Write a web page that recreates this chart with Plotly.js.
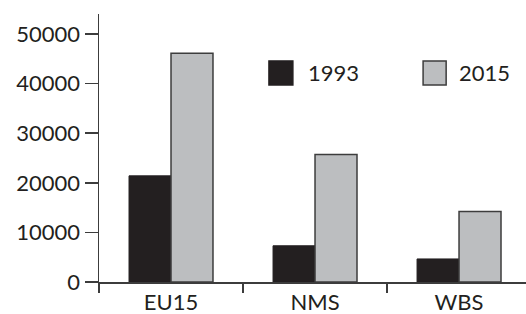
<!DOCTYPE html>
<html>
<head>
<meta charset="utf-8">
<script src="https://cdn.plot.ly/plotly-3.0.1.min.js"></script>
<style>html,body{margin:0;padding:0;background:#fff;}#chart{width:526px;height:314px;}</style>
</head>
<body>
<div id="chart"></div>
<script>
const categories = ["EU15", "NMS", "WBS"];
const seriesNames = ["1993", "2015"];
const values1993 = [21400, 7300, 4650];
const values2015 = [46100, 25700, 14200];
const yTickVals = [0, 10000, 20000, 30000, 40000, 50000];
const yTickText = ["0", "10000", "20000", "30000", "40000", "50000"];

const dark = "#231f20";
const gray = "#bcbec0";
const edge = "#3d3d3d";
const fontFam = "Lato, 'Open Sans', sans-serif";

const traces = [
  {type: "bar", name: seriesNames[0], x: categories, y: values1993,
   marker: {color: dark, line: {color: dark, width: 1}}, showlegend: false, hoverinfo: "skip"},
  {type: "bar", name: seriesNames[1], x: categories, y: values2015,
   marker: {color: gray, line: {color: edge, width: 1.5}}, showlegend: false, hoverinfo: "skip"}
];

const legendColors = [dark, gray];
const legendEdges = [dark, edge];
const boxX = [[0.398, 0.454], [0.759, 0.813]];
const textX = [0.485, 0.839];
const shapes = [];
const annotations = [];
for (let i = 0; i < seriesNames.length; i++) {
  shapes.push({type: "rect", xref: "paper", yref: "paper",
    x0: boxX[i][0], x1: boxX[i][1], y0: 0.735, y1: 0.825,
    fillcolor: legendColors[i], line: {color: legendEdges[i], width: 1.5}});
  annotations.push({xref: "paper", yref: "paper", x: textX[i], y: 0.78,
    xanchor: "left", yanchor: "middle", showarrow: false, text: seriesNames[i],
    font: {family: fontFam, size: 22, color: dark}});
}

const layout = {
  width: 526, height: 314,
  margin: {l: 99, r: 0, t: 14, b: 32, pad: 0},
  paper_bgcolor: "#fff", plot_bgcolor: "#fff",
  barmode: "group", bargap: 0.417, bargroupgap: 0,
  font: {family: fontFam, size: 22, color: dark},
  xaxis: {
    type: "category", range: [-0.5, 2.465],
    showline: true, linecolor: "#3c3c3c", linewidth: 1.5,
    ticks: "outside", tickson: "boundaries", ticklen: 9, tickwidth: 1.5, tickcolor: "#3c3c3c",
    showgrid: false, zeroline: false,
    tickfont: {family: fontFam, size: 22, color: dark}
  },
  yaxis: {
    range: [0, 54030], tickvals: yTickVals, ticktext: yTickText,
    showline: true, linecolor: "#3c3c3c", linewidth: 1.5,
    ticks: "outside", ticklen: 13, tickwidth: 1.5, tickcolor: "#3c3c3c",
    showgrid: false, zeroline: false,
    tickfont: {family: fontFam, size: 22, color: dark}
  },
  shapes: shapes,
  annotations: annotations
};

Plotly.newPlot("chart", traces, layout, {displayModeBar: false, staticPlot: true});
</script>
</body>
</html>
